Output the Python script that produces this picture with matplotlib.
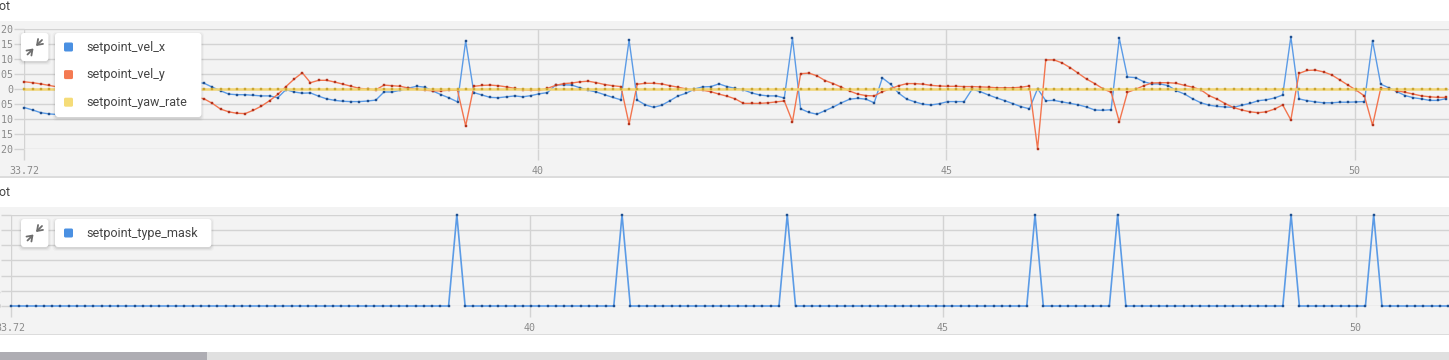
import numpy as np
import matplotlib.pyplot as plt
from matplotlib.patches import Rectangle, FancyBboxPatch

W, H = 1449, 360

# sampling start and step (s)
t_start = 33.72
t_step = 0.1

vel_x = [
    -0.062, -0.070, -0.079, -0.083, -0.085, -0.085, -0.082, -0.077, -0.070, -0.062,
    -0.053, -0.044, -0.035, -0.026, -0.018, -0.010, -0.003, 0.004, 0.010, 0.015,
    0.019, 0.022, 0.019, 0.006, -0.006, -0.017, -0.019, -0.019, -0.021, -0.023,
    -0.023, -0.029, -0.002, -0.010, -0.014, -0.013, -0.024, -0.033, -0.038, -0.041,
    -0.042, -0.042, -0.040, -0.037, -0.010, -0.010, -0.004, 0.003, 0.009, 0.006,
    -0.007, -0.019, -0.030, -0.043, 0.160, -0.012, -0.020, -0.028, -0.029, -0.026,
    -0.023, -0.026, -0.022, -0.016, -0.012, 0.013, 0.014, 0.013, 0.004, -0.004,
    -0.010, -0.019, -0.028, -0.036, 0.163, -0.037, -0.053, -0.061, -0.054, -0.039,
    -0.023, -0.014, 0.000, 0.007, 0.008, 0.017, 0.008, 0.002, -0.003, -0.013,
    -0.020, -0.023, -0.023, -0.030, 0.169, -0.066, -0.078, -0.084, -0.072, -0.060,
    -0.046, -0.034, -0.031, -0.034, -0.046, 0.037, 0.016, -0.014, -0.034, -0.043,
    -0.051, -0.053, -0.049, -0.042, -0.042, -0.042, 0.000, -0.009, -0.020, -0.030,
    -0.039, -0.049, -0.059, -0.066, 0.001, -0.039, -0.038, -0.043, -0.048, -0.053,
    -0.060, -0.070, -0.071, -0.069, 0.169, 0.040, 0.038, 0.024, 0.017, 0.017,
    0.011, -0.006, -0.017, -0.033, -0.046, -0.054, -0.058, -0.060, -0.061, -0.054,
    -0.048, -0.039, -0.036, -0.030, -0.020, 0.174, -0.033, -0.039, -0.043, -0.046,
    -0.046, -0.044, -0.044, -0.043, -0.042, 0.161, 0.016, 0.004, -0.009, -0.022,
    -0.029, -0.033, -0.038, -0.038, -0.032,
]

vel_y = [
    0.024, 0.021, 0.017, 0.012, 0.007, 0.002, -0.002, -0.005, -0.007, -0.008,
    -0.009, -0.009, -0.009, -0.009, -0.010, -0.011, -0.013, -0.015, -0.018, -0.021,
    -0.024, -0.027, -0.033, -0.048, -0.067, -0.076, -0.081, -0.082, -0.071, -0.057,
    -0.039, -0.018, 0.008, 0.033, 0.054, 0.021, 0.029, 0.029, 0.023, 0.016,
    0.009, 0.002, 0.000, -0.003, 0.013, 0.011, 0.009, 0.003, -0.001, -0.004,
    -0.006, -0.006, -0.004, -0.004, -0.123, 0.009, 0.012, 0.013, 0.011, 0.007,
    0.002, -0.002, -0.004, -0.004, 0.002, 0.012, 0.018, 0.020, 0.024, 0.026,
    0.021, 0.015, 0.011, 0.008, -0.117, 0.016, 0.019, 0.019, 0.017, 0.011,
    0.006, 0.000, -0.003, -0.004, -0.009, -0.017, -0.024, -0.033, -0.048, -0.048,
    -0.048, -0.046, -0.043, -0.040, -0.109, 0.051, 0.053, 0.044, 0.028, 0.018,
    0.006, -0.007, -0.017, -0.022, -0.023, -0.009, 0.001, 0.011, 0.018, 0.018,
    0.016, 0.012, 0.010, 0.009, 0.009, 0.008, 0.008, 0.007, 0.006, 0.004,
    0.004, 0.004, 0.006, 0.010, -0.199, 0.097, 0.097, 0.087, 0.071, 0.052,
    0.033, 0.018, 0.001, -0.011, -0.109, -0.011, -0.001, 0.011, 0.020, 0.021,
    0.021, 0.019, 0.012, 0.006, -0.003, -0.022, -0.034, -0.049, -0.062, -0.070,
    -0.076, -0.079, -0.076, -0.067, -0.053, -0.103, 0.052, 0.062, 0.063, 0.057,
    0.047, 0.030, 0.013, -0.004, -0.023, -0.121, 0.002, 0.000, -0.006, -0.011,
    -0.017, -0.023, -0.026, -0.028, -0.028,
]

yaw_rate = [
    0, 0, 0, 0, 0, 0, 0, 0, 0, 0, 0, 0, 0, 0, 0, 0, 0, 0, 0, 0, 0, 0, 0, 0, 0,
    0, 0, 0, 0, 0, 0, 0, 0, 0, 0, 0, 0, 0, 0, 0, 0, 0, 0, 0, 0, 0, 0, 0, 0, 0,
    0, 0, 0, 0, 0, 0, 0, 0, 0, 0, 0, 0, 0, 0, 0, 0, 0, 0, 0, 0, 0, 0, 0, 0, 0,
    0, 0, 0, 0, 0, 0, 0, 0, 0, 0, 0, 0, 0, 0, 0, 0, 0, 0, 0, 0, 0, 0, 0, 0, 0,
    0, 0, 0, 0, 0, 0, 0, 0, 0, 0, 0, 0, 0, 0, 0, 0, 0, 0, 0, 0, 0, 0, 0, 0, 0,
    0, 0, 0, 0, 0, 0, 0, 0, 0, 0, 0, 0, 0, 0, 0, 0, 0, 0, 0, 0, 0, 0, 0, 0, 0,
    0, 0, 0, 0, 0, 0, 0, 0, 0, 0, 0, 0, 0, 0, 0, 0, 0, 0, 0, 0, 0, 0, 0, 0, 0,
]

type_mask = [
    0, 0, 0, 0, 0, 0, 0, 0, 0, 0, 0, 0, 0, 0, 0, 0, 0, 0, 0, 0, 0, 0, 0, 0, 0,
    0, 0, 0, 0, 0, 0, 0, 0, 0, 0, 0, 0, 0, 0, 0, 0, 0, 0, 0, 0, 0, 0, 0, 0, 0,
    0, 0, 0, 0, 30, 0, 0, 0, 0, 0, 0, 0, 0, 0, 0, 0, 0, 0, 0, 0, 0, 0, 0, 0, 30,
    0, 0, 0, 0, 0, 0, 0, 0, 0, 0, 0, 0, 0, 0, 0, 0, 0, 0, 0, 30, 0, 0, 0, 0, 0,
    0, 0, 0, 0, 0, 0, 0, 0, 0, 0, 0, 0, 0, 0, 0, 0, 0, 0, 0, 0, 0, 0, 0, 0, 30,
    0, 0, 0, 0, 0, 0, 0, 0, 0, 30, 0, 0, 0, 0, 0, 0, 0, 0, 0, 0, 0, 0, 0, 0, 0,
    0, 0, 0, 0, 0, 30, 0, 0, 0, 0, 0, 0, 0, 0, 0, 30, 0, 0, 0, 0, 0, 0, 0, 0, 0,
]

t = t_start + t_step * np.arange(len(vel_x))

x_ticks = [33.72, 40, 45, 50]
x_ticklabels = ['33.72', '40', '45', '50']

grid_c = '#d3d3d3'
tick_c = '#8a8a8a'
mono = 'DejaVu Sans Mono'
sans = ['Roboto', 'DejaVu Sans']


def rect(x0, y0, x1, y1):
    # pixel box, top-left origin -> figure fraction rect
    return [x0 / W, 1 - y1 / H, (x1 - x0) / W, (y1 - y0) / H]


def fmt(v):
    if abs(v) < 1e-9:
        return '0'
    return f'{v:.2f}'


fig = plt.figure(figsize=(W / 100, H / 100), dpi=100)
fig.patch.set_facecolor('white')

# background panels
bg = fig.add_axes([0, 0, 1, 1], zorder=0)
bg.set_xlim(0, W); bg.set_ylim(H, 0); bg.axis('off')
bg.add_patch(Rectangle((0, 20.5), W, 155.5, color='#f3f3f3', lw=0))
bg.add_patch(Rectangle((0, 175.5), W, 2, color='#dcdcdc', lw=0))
bg.add_patch(Rectangle((0, 207), W, 126.5, color='#f3f3f3', lw=0))
bg.add_patch(Rectangle((0, 333.5), W, 1.5, color='#dcdcdc', lw=0))
bg.add_patch(Rectangle((0, 351.5), W, 9, color='#e0e0e0', lw=0))
bg.add_patch(Rectangle((0, 351.5), 207, 9, color='#aeadb3', lw=0))
bg.text(10.5, 10, 'Plot', ha='right', va='baseline', fontsize=9,
        color='#444444', family=sans)
bg.text(10.5, 196, 'Plot', ha='right', va='baseline', fontsize=9,
        color='#444444', family=sans)


def style(ax, yt, ylabels):
    ax.patch.set_alpha(0)
    for s in ax.spines.values():
        s.set_visible(False)
    ax.set_xticks(x_ticks)
    ax.set_xticklabels(x_ticklabels)
    ax.set_yticks(yt)
    ax.set_yticklabels(ylabels)
    ax.grid(True, color=grid_c, lw=1)
    ax.tick_params(axis='y', length=7, width=1, color=grid_c, pad=0.8,
                   labelsize=7.2, labelcolor=tick_c)
    ax.tick_params(axis='x', length=8, width=1, color=grid_c, pad=4,
                   labelsize=7.2, labelcolor=tick_c)
    for lab in ax.get_xticklabels() + ax.get_yticklabels():
        lab.set_family(mono)


# upper plot
ax1 = fig.add_axes(rect(24.5, 29, W, 149), zorder=5)
ax1.set_xlim(t_start, t_start + (W - 24.5) / 81.7)
ax1.set_ylim(-0.2, 0.2)
yt1 = np.round(np.arange(-0.2, 0.201, 0.05), 2)
style(ax1, yt1, [fmt(v) for v in yt1])
ax1.plot(t, vel_x, color='#5b9be6', lw=1, marker='s', ms=1.5,
         mfc='#1f4f8f', mec='#1f4f8f', mew=0.3, clip_on=False, zorder=3)
ax1.plot(t, vel_y, color='#f2754f', lw=1, marker='s', ms=1.5,
         mfc='#b3331d', mec='#b3331d', mew=0.3, clip_on=False, zorder=3)
ax1.plot(t, yaw_rate, color='#f2d675', lw=1.8, marker='s', ms=1.5,
         mfc='#c9a532', mec='#c9a532', mew=0.3, clip_on=False, zorder=4)

# lower plot
ax2 = fig.add_axes(rect(10.8, 214.7, W, 306), zorder=5)
ax2.set_xlim(t_start, t_start + (W - 10.8) / 82.6)
ax2.set_ylim(0, 30)
yt2 = [0, 5, 10, 15, 20, 25, 30]
style(ax2, yt2, [str(v) for v in yt2])
ax2.plot(t, type_mask, color='#5b9be6', lw=1.2, marker='s', ms=1.5,
         mfc='#1f4f8f', mec='#1f4f8f', mew=0.3, clip_on=False, zorder=3)

# legend cards overlay
ov = fig.add_axes([0, 0, 1, 1], zorder=10)
ov.set_xlim(0, W); ov.set_ylim(H, 0); ov.axis('off')


def card(x0, y0, x1, y1):
    for d, a in [(3.0, 0.025), (2.0, 0.04), (1.0, 0.06)]:
        ov.add_patch(FancyBboxPatch((x0 - d + 0.5, y0 - d + 2), x1 - x0 + 2 * d - 1,
                                    y1 - y0 + 2 * d - 1,
                                    boxstyle='round,pad=0,rounding_size=4',
                                    fc='black', ec='none', alpha=a))
    ov.add_patch(FancyBboxPatch((x0, y0), x1 - x0, y1 - y0,
                                boxstyle='round,pad=0,rounding_size=3',
                                fc='white', ec='none'))


def shrink_icon(cx, cy):
    kw = dict(arrowstyle='->,head_length=0.35,head_width=0.25', lw=1.3,
              color='#6e6e6e', shrinkA=0, shrinkB=0)
    ov.annotate('', xy=(cx + 1, cy - 1), xytext=(cx + 7, cy - 7), arrowprops=kw)
    ov.annotate('', xy=(cx - 1.5, cy + 1.5), xytext=(cx - 7.5, cy + 7.5), arrowprops=kw)


def legend(x0, y0, x1, y1, items):
    card(21, y0, 48.5, y0 + 28)
    shrink_icon(35, y0 + 14)
    card(x0, y0, x1, y1)
    for i, (name, c) in enumerate(items):
        cy = y0 + 14 + 27.6 * i
        ov.add_patch(FancyBboxPatch((64, cy - 4.5), 9, 9,
                                    boxstyle='round,pad=0,rounding_size=1.5',
                                    fc=c, ec='none'))
        ov.text(86.5, cy, name, ha='left', va='center', fontsize=9,
                color='#444444', family=sans)


legend(55, 33, 201.5, 117, [('setpoint_vel_x', '#4a90e2'),
                            ('setpoint_vel_y', '#f47a52'),
                            ('setpoint_yaw_rate', '#f5dc78')])
legend(55, 219, 211.5, 247, [('setpoint_type_mask', '#4a90e2')])

fig.savefig('out.png', dpi=100)
